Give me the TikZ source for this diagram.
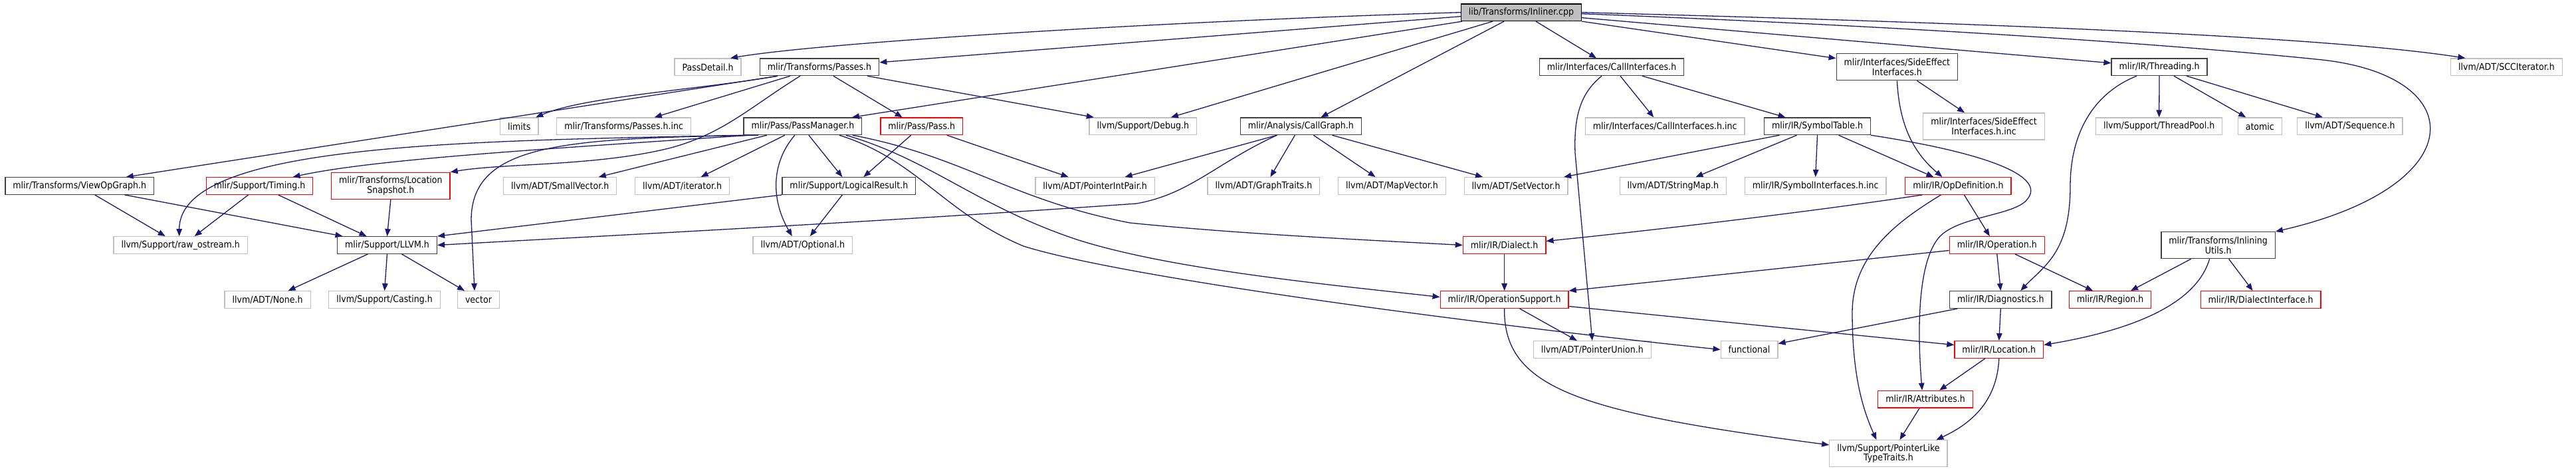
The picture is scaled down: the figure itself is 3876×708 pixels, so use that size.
\documentclass[tikz,border=0pt]{standalone}
\usepackage{fontspec}
\setmainfont{DejaVu Sans}[FakeStretch=0.9]
\usepackage{tikz}
\usetikzlibrary{arrows.meta}
\definecolor{edgeblue}{RGB}{25, 25, 112}
\definecolor{docgray}{RGB}{64, 64, 64}
\definecolor{extgray}{RGB}{191, 191, 191}
\definecolor{cutred}{RGB}{255, 0, 0}
\definecolor{rootgray}{RGB}{191, 191, 191}

\tikzset{
  hfile/.style={draw=docgray, line width=1.3pt, fill=white, minimum height=25.6pt,
    inner xsep=11.5pt, inner ysep=0pt, align=center, font=\fontsize{14}{14.5}\selectfont},
  docfile/.style={hfile, draw=docgray},
  extfile/.style={hfile, draw=extgray},
  cutfile/.style={hfile, draw=cutred},
  rootfile/.style={hfile, draw=black, fill=rootgray},
  twoline/.style={minimum height=40pt},
  dep/.style={draw=edgeblue, line width=1.3pt, -{Triangle[length=11pt,width=8.5pt]}}
}

\begin{document}
\begin{tikzpicture}[x=1pt, y=-1pt]
  \useasboundingbox (0,0) rectangle (3876,708);

  % files
  \node[rootfile] (root) at (2289,18.7) {lib/Transforms/Inliner.cpp};

  \node[extfile] (passdetail) at (1065,100.8) {PassDetail.h};
  \node[docfile] (passes) at (1233,100.8) {mlir/Transforms/Passes.h};
  \node[docfile] (callif) at (2425,100.8) {mlir/Interfaces/CallInterfaces.h};
  \node[docfile, twoline] (sideeff) at (2854.4,100.7) {mlir/Interfaces/SideEffect\\Interfaces.h};
  \node[docfile] (threading) at (3249,100.8) {mlir/IR/Threading.h};
  \node[extfile] (scc) at (3771.4,100.8) {llvm/ADT/SCCIterator.h};

  \node[extfile] (limits) at (781.2,189.8) {limits};
  \node[extfile] (passesinc) at (938.7,189.8) {mlir/Transforms/Passes.h.inc};
  \node[docfile] (passmgr) at (1207.9,189.8) {mlir/Pass/PassManager.h};
  \node[cutfile] (pass) at (1386.7,189.8) {mlir/Pass/Pass.h};
  \node[extfile] (debug) at (1719.8,189.8) {llvm/Support/Debug.h};
  \node[docfile] (callgraph) at (1957.4,189.8) {mlir/Analysis/CallGraph.h};
  \node[extfile] (callifinc) at (2505.2,189.8) {mlir/Interfaces/CallInterfaces.h.inc};
  \node[docfile] (symtab) at (2734.5,189.8) {mlir/IR/SymbolTable.h};
  \node[extfile, twoline] (sideeffinc) at (2985,190) {mlir/Interfaces/SideEffect\\Interfaces.h.inc};
  \node[extfile] (threadpool) at (3248.7,189.8) {llvm/Support/ThreadPool.h};
  \node[extfile] (atomic) at (3400.3,189.8) {atomic};
  \node[extfile] (sequence) at (3535.9,189.8) {llvm/ADT/Sequence.h};

  \node[docfile] (viewop) at (119.7,279.5) {mlir/Transforms/ViewOpGraph.h};
  \node[cutfile] (timing) at (390.6,279.5) {mlir/Support/Timing.h};
  \node[cutfile, twoline] (locsnap) at (587.9,279.3) {mlir/Transforms/Location\\Snapshot.h};
  \node[extfile] (smallvec) at (842.7,279.5) {llvm/ADT/SmallVector.h};
  \node[extfile] (iterator) at (1026.6,279.5) {llvm/ADT/iterator.h};
  \node[docfile] (logical) at (1277.4,279.5) {mlir/Support/LogicalResult.h};
  \node[extfile] (ptrintpair) at (1647.6,279.5) {llvm/ADT/PointerIntPair.h};
  \node[extfile] (graphtraits) at (1901.4,279.5) {llvm/ADT/GraphTraits.h};
  \node[extfile] (mapvector) at (2094.5,279.5) {llvm/ADT/MapVector.h};
  \node[extfile] (setvector) at (2281.1,279.5) {llvm/ADT/SetVector.h};
  \node[extfile] (stringmap) at (2517.4,279.5) {llvm/ADT/StringMap.h};
  \node[extfile] (symifinc) at (2731.7,279.5) {mlir/IR/SymbolInterfaces.h.inc};
  \node[cutfile] (opdef) at (2946.4,279.5) {mlir/IR/OpDefinition.h};

  \node[extfile] (rawostream) at (271.7,368.5) {llvm/Support/raw\_ostream.h};
  \node[docfile] (llvm) at (582.5,368.5) {mlir/Support/LLVM.h};
  \node[extfile] (optional) at (1207.8,368.5) {llvm/ADT/Optional.h};
  \node[cutfile] (dialect) at (2263.6,368.5) {mlir/IR/Dialect.h};
  \node[cutfile] (operation) at (3004.8,368.5) {mlir/IR/Operation.h};
  \node[docfile, twoline] (inlining) at (3337.6,368.7) {mlir/Transforms/Inlining\\Utils.h};

  \node[extfile] (none) at (402.6,450.5) {llvm/ADT/None.h};
  \node[extfile] (casting) at (578.6,450.5) {llvm/Support/Casting.h};
  \node[extfile] (vector) at (720,450.5) {vector};
  \node[cutfile] (opsupport) at (2263.6,450.5) {mlir/IR/OperationSupport.h};
  \node[docfile] (diagnostics) at (3010.3,450.5) {mlir/IR/Diagnostics.h};
  \node[cutfile] (region) at (3175,450.5) {mlir/IR/Region.h};
  \node[cutfile] (dialectif) at (3401.6,450.5) {mlir/IR/DialectInterface.h};

  \node[extfile] (ptrunion) at (2395.8,525.5) {llvm/ADT/PointerUnion.h};
  \node[extfile] (functional) at (2632,525.5) {functional};
  \node[cutfile] (location) at (3007.8,525.5) {mlir/IR/Location.h};

  \node[cutfile] (attributes) at (2897.1,600.2) {mlir/IR/Attributes.h};

  \node[extfile, twoline] (ptrlike) at (2841.4,681.8) {llvm/Support/PointerLike\\TypeTraits.h};

  % includes of Inliner.cpp
  \draw[dep] (root.west) .. controls (1800,30) and (1250,62) .. ([xshift=34pt]passdetail.north);
  \draw[dep] ([yshift=-6pt]root.west) -- ([yshift=7pt]passes.east);
  \draw[dep] ([xshift=-89pt]root.south) -- ([xshift=74pt]passmgr.north);
  \draw[dep] ([xshift=-43pt]root.south) -- ([xshift=42pt]debug.north);
  \draw[dep] ([xshift=-26pt]root.south) -- ([xshift=30pt]callgraph.north);
  \draw[dep] ([xshift=22pt]root.south) -- ([xshift=-23pt]callif.north);
  \draw[dep] (root.south east) -- ([yshift=13pt]sideeff.west);
  \draw[dep] ([yshift=-8pt]root.east) -- ([yshift=6pt]threading.west);
  \draw[dep] (root.east) .. controls (3000,35) and (3500,55) .. ([xshift=-62pt]scc.north);
  \draw[dep] ([yshift=-2pt]root.east) .. controls (3000,45) and (3350,75) .. (3494,90)
    .. controls (3720,115) and (3720,280) .. (inlining.north east);

  % Passes.h
  \draw[dep] ([xshift=-63pt]passes.south) -- ([xshift=70pt]viewop.north);
  \draw[dep] ([xshift=-63pt]passes.south) .. controls (1050,135) and (880,145) .. ([xshift=25pt]limits.north);
  \draw[dep] ([xshift=-44pt]passes.south) -- ([xshift=46pt]passesinc.north);
  \draw[dep] ([xshift=-29pt]passes.south) .. controls (1130,160) and (1090,200) .. (1010,222)
    .. controls (900,250) and (760,245) .. (locsnap.north east);
  \draw[dep] ([xshift=21pt]passes.south) -- ([xshift=-29pt]pass.north);
  \draw[dep] ([xshift=72pt]passes.south) -- ([xshift=-74pt]debug.north);

  % PassManager.h
  \draw[dep] (passmgr.south west) .. controls (700,212) and (270,215) .. ([xshift=-2pt]rawostream.north);
  \draw[dep] ([xshift=-80pt]passmgr.south) .. controls (800,225) and (560,240) .. ([xshift=50pt]timing.north);
  \draw[dep] ([xshift=-67pt]passmgr.south) .. controls (850,208) and (710,215) .. (709,330)
    -- ([xshift=-6pt]vector.north);
  \draw[dep] ([xshift=-54pt]passmgr.south) -- ([xshift=58pt]smallvec.north);
  \draw[dep] ([xshift=-27pt]passmgr.south) -- ([xshift=28pt]iterator.north);
  \draw[dep] ([xshift=9pt]passmgr.south) -- ([xshift=-10pt]logical.north);
  \draw[dep] ([xshift=-12pt]passmgr.south) .. controls (1160,245) and (1160,300) .. ([xshift=-16pt]optional.north);
  \draw[dep] ([xshift=75pt]passmgr.south) .. controls (1450,235) and (1520,300) .. (1700,335)
    .. controls (1850,350) and (2000,358) .. (dialect.west);
  \draw[dep] ([xshift=65pt]passmgr.south) .. controls (1400,240) and (1470,310) .. (1620,360)
    .. controls (1760,405) and (2000,428) .. ([yshift=4pt]opsupport.west);
  \draw[dep] ([xshift=55pt]passmgr.south) .. controls (1380,240) and (1420,320) .. (1540,370)
    .. controls (1700,420) and (2250,490) .. (functional.west);

  % small headers
  \draw[dep] ([xshift=23pt]viewop.south) -- ([xshift=-23pt]rawostream.north);
  \draw[dep] ([xshift=68pt]viewop.south) -- ([xshift=-67pt]llvm.north);
  \draw[dep] ([xshift=-17pt]timing.south) -- ([xshift=21pt]rawostream.north);
  \draw[dep] ([xshift=28pt]timing.south) -- ([xshift=-31pt]llvm.north);
  \draw[dep] (locsnap.south) -- (llvm.north);
  \draw[dep] (logical.south west) -- (llvm.north east);
  \draw[dep] ([xshift=-10pt]logical.south) -- ([xshift=11pt]optional.north);
  \draw[dep] ([xshift=-16pt]pass.south) -- ([xshift=22pt]logical.north);
  \draw[dep] ([xshift=38pt]pass.south) -- ([xshift=-40pt]ptrintpair.north);
  \draw[dep] ([xshift=-29pt]llvm.south) -- ([xshift=31pt]none.north);
  \draw[dep] (llvm.south) -- (casting.north);
  \draw[dep] ([xshift=22pt]llvm.south) -- ([xshift=-21pt]vector.north);

  % CallGraph.h
  \draw[dep] ([xshift=-36pt]callgraph.south) .. controls (1830,245) and (1790,292) .. (1710,306)
    .. controls (1300,335) and (900,355) .. (llvm.east);
  \draw[dep] ([xshift=-36pt]callgraph.south) -- ([xshift=45pt]ptrintpair.north);
  \draw[dep] ([xshift=-9pt]callgraph.south) -- ([xshift=10pt]graphtraits.north);
  \draw[dep] ([xshift=19pt]callgraph.south) -- ([xshift=-25pt]mapvector.north);
  \draw[dep] ([xshift=47pt]callgraph.south) -- ([xshift=-50pt]setvector.north);

  % CallInterfaces.h and SymbolTable.h
  \draw[dep] ([xshift=-15pt]callif.south) .. controls (2378,140) and (2368,175) .. (2370,230)
    -- (ptrunion.north);
  \draw[dep] ([xshift=13pt]callif.south) -- ([xshift=-17pt]callifinc.north);
  \draw[dep] ([xshift=46pt]callif.south) -- ([xshift=-48pt]symtab.north);
  \draw[dep] ([xshift=-57pt]symtab.south) -- ([xshift=72pt]setvector.north);
  \draw[dep] ([xshift=-31pt]symtab.south) -- ([xshift=34pt]stringmap.north);
  \draw[dep] (symtab.south) -- (symifinc.north);
  \draw[dep] ([xshift=32pt]symtab.south) -- ([xshift=-37pt]opdef.north);
  \draw[dep] (symtab.south east) .. controls (2990,230) and (3080,265) .. (3050,300)
    .. controls (3030,325) and (2940,325) .. (2915,360)
    .. controls (2885,400) and (2885,500) .. ([xshift=-5pt]attributes.north);

  % SideEffectInterfaces.h and Threading.h
  \draw[dep] (sideeff.south) .. controls (2858,190) and (2880,230) .. ([xshift=-24pt]opdef.north);
  \draw[dep] ([xshift=30pt]sideeff.south) -- ([xshift=-29pt]sideeffinc.north);
  \draw[dep] ([xshift=-34pt]threading.south) .. controls (3150,140) and (3115,200) .. (3115,280)
    .. controls (3115,380) and (3075,400) .. ([xshift=30pt]diagnostics.north);
  \draw[dep] (threading.south) -- (threadpool.north);
  \draw[dep] ([xshift=22pt]threading.south) -- ([xshift=-21pt]atomic.north);
  \draw[dep] ([xshift=41pt]threading.south) -- ([xshift=-41pt]sequence.north);

  % IR headers
  \draw[dep] ([xshift=-54pt]opdef.south) .. controls (2700,322) and (2450,350) .. ([yshift=6pt]dialect.east);
  \draw[dep] ([xshift=9pt]opdef.south) -- ([xshift=-11pt]operation.north);
  \draw[dep] ([xshift=-26pt]opdef.south) .. controls (2860,330) and (2787,380) .. (2787,470)
    .. controls (2787,570) and (2805,620) .. ([xshift=-18pt]ptrlike.north);
  \draw[dep] ([yshift=-8pt]operation.west) -- (opsupport.north east);
  \draw[dep] (operation.south) -- (diagnostics.north);
  \draw[dep] ([xshift=27pt]operation.south) -- ([xshift=-26pt]region.north);
  \draw[dep] (dialect.south) -- (opsupport.north);
  \draw[dep] ([xshift=23pt]opsupport.south) -- ([xshift=-23pt]ptrunion.north);
  \draw[dep] (opsupport.south) .. controls (2262,585) and (2380,620) .. ([yshift=13pt]ptrlike.west);
  \draw[dep] ([yshift=-10pt]opsupport.east) -- ([yshift=7pt]location.west);
  \draw[dep] ([xshift=-65pt]diagnostics.south) -- ([yshift=9pt]functional.east);
  \draw[dep] (diagnostics.south) -- (location.north);
  \draw[dep] ([xshift=-21pt]location.south) -- ([xshift=21pt]attributes.north);
  \draw[dep] (location.south) .. controls (3005,600) and (2970,635) .. ([xshift=72pt]ptrlike.north);
  \draw[dep] ([xshift=-9pt]attributes.south) -- ([xshift=17pt]ptrlike.north);

  % InliningUtils.h
  \draw[dep] ([xshift=-41pt]inlining.south) -- ([xshift=31pt]region.north);
  \draw[dep] ([xshift=-13pt]inlining.south) .. controls (3305,455) and (3215,495) .. ([yshift=7pt]location.east);
  \draw[dep] ([xshift=16pt]inlining.south) -- ([xshift=-12pt]dialectif.north);
\end{tikzpicture}
\end{document}
